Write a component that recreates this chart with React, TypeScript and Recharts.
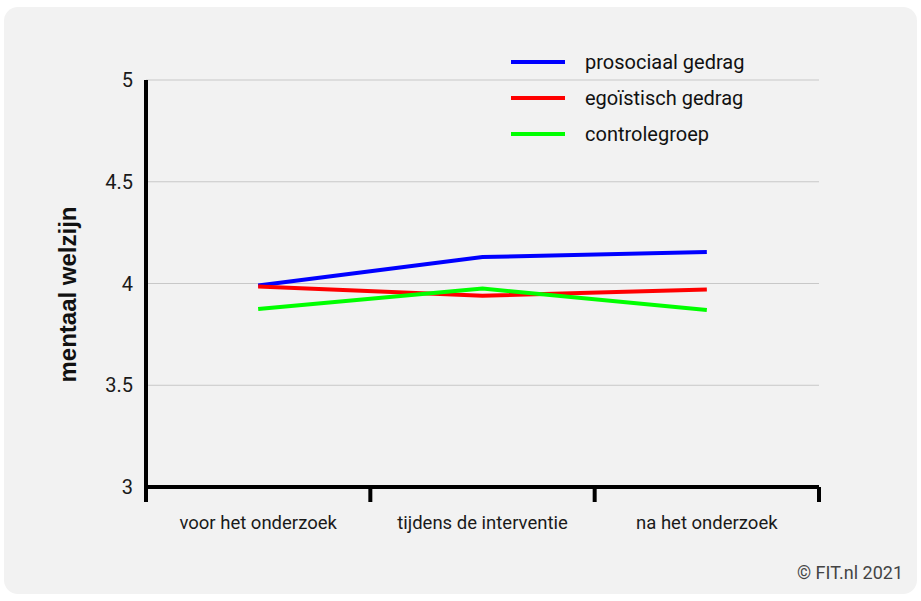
import React from "react";
import {
  LineChart,
  Line,
  XAxis,
  YAxis,
  CartesianGrid,
  Legend,
} from "recharts";

const categories = ["voor het onderzoek", "tijdens de interventie", "na het onderzoek"];
const prosociaal = [3.99, 4.13, 4.155];
const egoistisch = [3.985, 3.94, 3.97];
const controle = [3.875, 3.975, 3.87];
const yTicks = [3, 3.5, 4, 4.5, 5];

const series = [
  { key: "prosociaal", name: "prosociaal gedrag", color: "#0000ff" },
  { key: "egoistisch", name: "egoïstisch gedrag", color: "#ff0000" },
  { key: "controle", name: "controlegroep", color: "#00ff00" },
];

// points sit in the middle of each category band
const data = categories.map((c, i) => ({
  pos: i + 0.5,
  cat: c,
  prosociaal: prosociaal[i],
  egoistisch: egoistisch[i],
  controle: controle[i],
}));
const bandEdges = [...categories.map((_, i) => i), categories.length];
const bandCenters = data.map((d) => d.pos);

const FONT = "Roboto, 'Noto Sans', sans-serif";

function LegendBox(props: any) {
  const items = [...(props.payload || [])].sort(
    (a: any, b: any) =>
      series.findIndex((s) => s.name === a.value) -
      series.findIndex((s) => s.name === b.value)
  );
  return (
    <div style={{ fontFamily: FONT }}>
      {items.map((it: any) => (
        <div
          key={it.value}
          style={{ display: "flex", alignItems: "center", height: 36 }}
        >
          <svg width={54} height={6} style={{ marginRight: 20 }}>
            <line x1={0} y1={3} x2={54} y2={3} stroke={it.color} strokeWidth={4} />
          </svg>
          <span style={{ fontSize: 20, color: "#111" }}>{it.value}</span>
        </div>
      ))}
    </div>
  );
}

export default function App() {
  return (
    <div
      style={{
        position: "absolute",
        left: 0,
        top: 0,
        width: 921,
        height: 601,
        background: "#fff",
      }}
    >
      <div
        style={{
          position: "absolute",
          left: 4,
          top: 7,
          width: 913,
          height: 587,
          background: "#f2f2f2",
          borderRadius: 14,
        }}
      />
      <div style={{ position: "absolute", left: 0, top: 0 }}>
        <LineChart
          width={921}
          height={601}
          data={data}
          margin={{ top: 80, right: 102, bottom: 58, left: 86 }}
        >
          <CartesianGrid
            xAxisId="bands"
            vertical={false}
            stroke="#c8c8c8"
            strokeWidth={1}
          />
          <XAxis
            xAxisId="bands"
            dataKey="pos"
            type="number"
            domain={[0, categories.length]}
            ticks={bandEdges}
            interval={0}
            tick={() => <g />}
            height={16}
            tickSize={15}
            axisLine={{ stroke: "#000", strokeWidth: 4 }}
            tickLine={{ stroke: "#000", strokeWidth: 4 }}
          />
          <XAxis
            xAxisId="labels"
            dataKey="pos"
            type="number"
            domain={[0, categories.length]}
            ticks={bandCenters}
            interval={0}
            tickFormatter={(v: number) => categories[Math.floor(v)]}
            axisLine={false}
            tickLine={false}
            tickSize={0}
            tickMargin={13}
            height={40}
            tick={{ fontSize: 18.5, fill: "#1a1a1a", fontFamily: FONT }}
          />
          <YAxis
            domain={[3, 5]}
            ticks={yTicks}
            interval={0}
            width={60}
            axisLine={{ stroke: "#000", strokeWidth: 4 }}
            tickLine={false}
            tickSize={0}
            tickMargin={13}
            tick={{ fontSize: 20, fill: "#1a1a1a", fontFamily: FONT }}
            label={{
              content: (p: any) => {
                const vb = p.viewBox || { x: 86, y: 80, width: 60, height: 407 };
                const cx = vb.x - 19;
                const cy = vb.y + vb.height / 2 + 11;
                return (
                  <text
                    x={cx}
                    y={cy}
                    transform={`rotate(-90 ${cx} ${cy})`}
                    textAnchor="middle"
                    dominantBaseline="central"
                    fontFamily="'Liberation Sans', Arial, sans-serif"
                    fontWeight="bold"
                    fontSize={24}
                    fill="#111"
                  >
                    mentaal welzijn
                  </text>
                );
              },
            }}
          />
          <Legend
            layout="vertical"
            align="center"
            verticalAlign="middle"
            content={<LegendBox />}
            wrapperStyle={{ position: "absolute", left: 511, top: 44, width: 300 }}
          />
          {series.map((s) => (
            <Line
              key={s.key}
              xAxisId="bands"
              type="linear"
              dataKey={s.key}
              name={s.name}
              stroke={s.color}
              strokeWidth={4}
              dot={false}
              activeDot={false}
              isAnimationActive={false}
            />
          ))}
        </LineChart>
      </div>
      <div
        style={{
          position: "absolute",
          right: 18,
          top: 562,
          fontFamily: FONT,
          fontSize: 18,
          color: "#444",
        }}
      >
        © FIT.nl 2021
      </div>
    </div>
  );
}
